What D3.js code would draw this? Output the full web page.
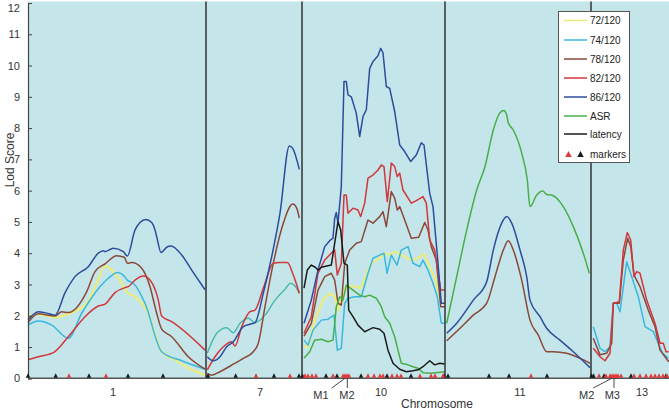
<!DOCTYPE html>
<html><head><meta charset="utf-8">
<script src="https://cdn.jsdelivr.net/npm/d3@7/dist/d3.min.js"></script>
<style>body{margin:0;background:#fff;}svg{display:block;font-family:"Liberation Sans",Arial,sans-serif;}</style>
</head><body>
<script>
// ---------------- DATA ----------------
const chromosomes = ["1", "7", "10", "11", "13"];
const chromLengths = [178, 96, 143, 146, 78];        // cM
const chromLabelPos = [85, 54, 79, 75, 51];           // cM within chromosome
const yTicks = [0,1,2,3,4,5,6,7,8,9,10,11,12];
const seriesNames = ["72/120", "74/120", "78/120", "82/120", "86/120", "ASR", "latency"];
const seriesColors = ["#ecec7c", "#38b7e0", "#8b4838", "#d1373b", "#2e4c9e", "#47af48", "#1a1a1a"];

// each series: one array of [cM, LOD] per chromosome (null = not shown)
const lod72 = [
  [[0,1.97],[10.3,2.05],[27,1.95],[40.3,2.06],[58.7,2.4],[68.7,3.04],[77,3.59],[83.7,3.46],[93.7,3.04],[99.3,2.74],[107,2.61],[120.3,2.08],[133.7,0.85],[147,0.59],[163.7,0.27],[177,0.11]],
  [[1.3,0.8],[10.7,1.44],[20.7,1.62],[27.3,1.46],[34,1.76],[42.3,1.92],[49,1.78],[59,2.02],[69,2.5],[79,2.85],[84.7,3.04],[89,2.95],[93.3,2.72]],
  [[2,1.01],[6,1.01],[12.7,1.86],[21,2.5],[27.7,2.72],[32.7,2.61],[36,2.18],[39.3,2.61],[44.3,2.93],[51,2.95],[59.3,2.88],[66,3.46],[71,3.73],[77.7,3.84],[82.7,4.0],[87.7,3.94],[92.7,4.05],[99.3,3.94],[109.3,3.78],[116,3.84],[122,3.97],[127.7,3.57],[132.7,3.2],[139.3,2.4],[142.7,2.4]],
  null, null
];
const lod74 = [
  [[0,1.7],[10.3,1.83],[23.7,1.7],[40.3,1.28],[53.7,2.08],[72,2.93],[80.3,3.2],[89.7,3.38],[95.3,3.3],[99.3,3.14],[105.3,3.04],[117,2.4],[133.7,0.85],[153.7,0.56],[177,0.29]],
  [[1.3,0.8],[10.7,1.44],[20.7,1.62],[27.3,1.46],[34,1.76],[42.3,1.92],[49,1.78],[59,2.02],[69,2.5],[79,2.85],[84.7,3.04],[89,2.95],[93.3,2.72]],
  [[2,1.22],[6,1.06],[11,1.54],[19.3,1.86],[26,1.89],[32,2.02],[35.3,0.9],[39.3,0.96],[42.7,2.4],[46,2.56],[52.7,2.61],[59.3,2.61],[66,3.36],[71,3.84],[77.7,3.94],[82,4.0],[85,3.36],[89.3,3.94],[95,3.62],[99.3,4.1],[106,4.21],[111,3.68],[117.7,3.57],[121,3.78],[126,3.46],[131,3.04],[135.3,2.61],[139.3,1.76],[142.7,1.76]],
  null,
  [[2.3,1.65],[9,0.96],[14,0.85],[19,1.01],[22.3,2.4],[25.7,2.4],[29,2.13],[35.7,3.73],[40.7,3.25],[47.3,2.61],[54,1.65],[62.3,1.49],[67.3,1.12],[71.7,0.8],[77.3,0.64]]
];
const lod78 = [
  [[0,1.78],[10.3,2.06],[27,1.99],[33.7,2.13],[40.3,2.1],[58.7,2.77],[67,3.41],[77,3.66],[88.7,3.92],[96.3,3.87],[99.3,3.68],[103.7,3.7],[113.7,3.52],[122,2.93],[128.7,2.08],[133.7,1.57],[143.7,1.33],[160.3,0.69],[177,0.29]],
  [[1.3,0.16],[5.7,0.1],[14,0.21],[27.3,0.45],[37.3,0.64],[47.3,0.85],[52.3,1.12],[59,2.29],[67.3,3.68],[77.3,4.96],[86.7,5.57],[90.7,5.44],[93.3,5.12]],
  [[2,1.35],[9.3,1.76],[16,2.82],[22.7,3.25],[29.3,3.36],[32.7,3.14],[36,2.4],[39.3,2.34],[42.7,3.68],[47.7,4.1],[54.3,4.32],[59.3,4.37],[66,5.06],[71,4.96],[77.7,5.17],[81,5.33],[84.3,4.85],[89.3,5.97],[92.7,5.76],[95.3,5.38],[97.7,5.49],[102.7,5.06],[109.3,4.48],[116.7,4.51],[122.7,4.98],[126,4.74],[129.3,4.21],[134.3,3.78],[138.7,2.29],[142.7,2.29]],
  [[1.7,1.2],[15,1.6],[28.3,2.02],[41.7,2.4],[50,3.25],[58.3,4.1],[63.3,4.4],[68.3,4.1],[76.7,3.14],[85,1.86],[93.3,1.38],[101.7,0.85],[108.3,0.85],[121.7,0.8],[135,0.64],[145,0.48]],
  [[2.3,1.28],[9,0.75],[15.7,0.8],[20.7,1.12],[22.3,2.4],[28.3,2.4],[32.3,3.78],[36.7,4.48],[39.7,4.21],[43,3.3],[49,2.93],[57.3,2.18],[64,1.65],[69,0.9],[77.7,0.53]]
];
const lod82 = [
  [[0,0.59],[10.3,0.69],[26.3,0.84],[40.3,1.33],[57,1.97],[70.3,2.31],[77,2.37],[87,2.74],[97,2.9],[100.3,2.93],[107,3.14],[115.3,3.27],[122,3.14],[130.3,2.5],[133.7,1.99],[143.7,1.81],[177,0.9]],
  [[1.3,0.27],[9,0.69],[17.3,1.01],[25.7,1.17],[29,1.03],[35.7,1.65],[44,2.13],[49,2.18],[57.3,2.88],[67.3,3.68],[74,3.7],[81.3,3.7],[87.3,3.3],[93.3,2.72]],
  [[2,1.44],[9.3,1.97],[16,3.36],[22.7,3.78],[29.3,4.0],[32.7,4.1],[35.3,3.3],[39.3,3.68],[42,5.86],[44.3,5.86],[46,5.28],[51,5.44],[56,5.38],[58.7,5.17],[62.7,5.6],[66,6.4],[71,6.5],[76,6.66],[79.3,6.82],[82,6.77],[85.3,5.65],[89.3,6.88],[92.7,6.77],[95.3,6.45],[97.7,6.56],[101,6.02],[109.3,5.6],[114.3,5.68],[121,5.81],[124.3,5.6],[127.7,4.42],[132.7,4.1],[138.7,2.82],[142.7,2.82]],
  null,
  [[2.3,0.96],[9,0.69],[14,0.56],[19,0.8],[22.3,2.4],[28.3,2.45],[32.3,4.1],[36.3,4.66],[39.7,4.42],[43,3.25],[45.7,3.41],[49,3.36],[55.7,2.5],[64,1.76],[69,1.12],[72.3,1.12],[75,0.85],[77.7,0.85]]
];
const lod86 = [
  [[0,1.86],[10.3,2.13],[17,2.1],[27,2.02],[37,2.73],[47,3.25],[60.3,3.57],[70.3,4.0],[75.3,4.08],[77,4.05],[85.3,4.16],[95.3,4.05],[99.3,3.91],[107,4.74],[112,4.98],[117.7,5.08],[123.7,4.98],[127,4.74],[128.7,4.53],[133,4.02],[138.7,4.19],[143,4.23],[153.7,3.94],[163.7,3.46],[177,2.83]],
  [[1.3,0.69],[7.3,0.56],[14,0.69],[20.7,1.01],[27.3,1.17],[37.3,1.65],[44,1.73],[49,1.78],[57.3,2.72],[65.7,3.89],[74,5.28],[83.3,7.43],[86.7,7.35],[93.3,6.68]],
  [[2,1.76],[9.3,2.5],[16,3.46],[22.7,4.21],[27.7,4.4],[31,4.48],[32.7,5.12],[34.3,5.3],[36,4.96],[39.3,6.13],[42,9.49],[44.3,9.49],[46,9.06],[49.3,9.0],[54.3,8.47],[57.7,7.73],[61,8.37],[64.3,8.58],[67.7,9.91],[71,10.13],[76,10.31],[78.7,10.55],[81,10.41],[84.3,9.33],[87.7,9.27],[92.7,8.53],[97.7,7.46],[102.7,7.25],[108.7,6.93],[114.3,7.14],[119.3,7.53],[122,7.46],[127.7,5.92],[131,5.49],[136,3.68],[139.3,2.4],[142.7,2.4]],
  [[1.7,1.44],[11.7,1.76],[28.3,2.5],[41.7,3.09],[48.3,4.1],[56.7,4.96],[61.7,5.17],[66.7,4.96],[75,4.1],[81.7,3.25],[85,2.5],[95,1.97],[101.7,1.6],[115,1.22],[128.3,0.85],[145,0.34]],
  null
];
const lodASR = [
  null, null,
  [[2,0.64],[7.7,0.85],[12.7,1.22],[19.3,1.25],[26,1.17],[31,1.22],[34.3,2.29],[37.7,2.61],[41,2.5],[44.3,2.98],[51,2.82],[57.7,2.66],[62.7,2.61],[67.7,2.66],[74.3,2.56],[79.3,2.29],[82.7,1.97],[87.7,1.76],[92.7,1.33],[96,0.9],[99.3,0.48],[106,0.43],[111,0.37],[116,0.32],[121,0.18],[129.3,0.16],[142.7,0.21]],
  [[1.7,1.76],[11.7,3.25],[21.7,4.74],[31.7,6.02],[40,6.77],[48.3,7.94],[55,8.49],[59,8.56],[61.7,8.42],[63.3,8.17],[68.3,7.94],[76.7,7.2],[82.3,6.34],[85,5.49],[91.7,5.86],[97.7,5.99],[101.7,5.88],[106.7,5.86],[118.3,5.49],[128.3,4.85],[138.3,4.0],[144.3,3.36]],
  null
];
const lodLatency = [
  null, null,
  [[2,2.88],[5.3,3.46],[9.3,3.62],[13.3,3.55],[16,3.46],[19.3,3.55],[29.3,3.62],[32.7,4.32],[36,5.01],[38.7,4.74],[42,3.68],[45.3,3.62],[46.7,2.18],[51,1.97],[56,1.7],[62.7,1.49],[66,1.54],[71,1.62],[77.7,1.57],[82,1.44],[86,0.9],[91,0.48],[97.7,0.29],[104.3,0.21],[111,0.24],[116,0.27],[121,0.37],[127.7,0.56],[132.7,0.43],[137.7,0.48],[142.7,0.46]],
  null, null
];
const allSeries = [lod72, lod74, lod78, lod82, lod86, lodASR, lodLatency];

// markers: [chromosome index, cM]
const markersRed = [[0,41],[0,78],[1,50],[1,84],
  [2,3],[2,6],[2,10],[2,14],[2,31],[2,41],[2,43],[2,45],[2,47],[2,66],[2,72],[2,78],[2,81],[2,90],[2,95],[2,99],[2,118],[2,129],[2,133],[2,141],
  [3,86],
  [4,8],[4,15],[4,19],[4,21],[4,23],[4,25],[4,27],[4,30],[4,43],[4,49],[4,55],[4,60],[4,64],[4,68],[4,72],[4,76]];
const markersBlack = [[0,0],[0,27.7],[0,61],[0,100],[0,135],[1,2],[1,29.7],[1,68],[1,93],
  [2,0.5],[2,24],[2,35],[2,59],[2,85],[2,109],[2,142],
  [3,3],[3,44],[3,64],[3,102],[4,0.5],[4,2.5],[4,13],[4,40],[4,75]];

// marker annotations
const annText = ["M1", "M2", "M2", "M3"];
const annChrom = [2, 2, 4, 4];
const annMarker = [43, 45.3, 20.7, 23];
const annLabelPos = [19, 45, -4.3, 21.3];
const annLineStart = [29.7, 45.3, 2.3, 23];

// ---------------- CHART ----------------
const W = 669, H = 411;
const svg = d3.select("body").append("svg").attr("width", W).attr("height", H);

const chromStart = [];
chromLengths.reduce((acc, l, i) => { chromStart[i] = acc; return acc + l; }, 0);
const total = d3.sum(chromLengths);
const x = d3.scaleLinear().domain([0, total]).range([28, 669]);
const y = d3.scaleLinear().domain([0, 12]).range([378.3, 3]);
const gx = (c, p) => x(chromStart[c] + p);

// background
svg.append("rect").attr("x", x(0)).attr("y", 1.5).attr("width", x(total) - x(0) + 2)
  .attr("height", y(0) - 1.5).attr("fill", "#c4e6ea");

// curves
const curveFor = [d3.curveMonotoneX, d3.curveMonotoneX, d3.curveLinear, d3.curveMonotoneX, d3.curveLinear];
allSeries.forEach((ser, si) => {
  ser.forEach((pts, ci) => {
    if (!pts) return;
    const line = d3.line().x(d => gx(ci, d[0])).y(d => y(d[1])).curve(curveFor[ci]);
    svg.append("path").attr("d", line(pts)).attr("fill", "none")
      .attr("stroke", seriesColors[si]).attr("stroke-width", si === 0 ? 2.2 : 1.5)
      .attr("stroke-linejoin", "round");
  });
});

// chromosome dividers
chromStart.slice(1).forEach(s => {
  svg.append("line").attr("x1", x(s)).attr("x2", x(s)).attr("y1", 1.5).attr("y2", y(0))
    .attr("stroke", "#333").attr("stroke-width", 1.5);
});

// axes
const yAxis = d3.axisLeft(y).tickValues(yTicks).tickSize(-4).tickPadding(8).tickFormat(d3.format("d"));
const ga = svg.append("g").attr("transform", `translate(${x(0)},0)`).call(yAxis);
ga.select(".domain").attr("stroke", "#444").attr("stroke-width", 1.2);
ga.selectAll(".tick line").attr("stroke", "#444");
ga.selectAll(".tick text").attr("font-size", 11).attr("fill", "#333")
  .attr("font-family", "Liberation Sans, Arial, sans-serif")
  .attr("dy", d => d === 12 ? "0.75em" : "0.32em");
svg.append("line").attr("x1", x(0)).attr("x2", W).attr("y1", y(0)).attr("y2", y(0))
  .attr("stroke", "#555").attr("stroke-width", 1.5);

// markers
const tri = (cx, by, w, h) => `M${cx - w/2},${by} L${cx + w/2},${by} L${cx},${by - h} Z`;
markersBlack.forEach(m => svg.append("path").attr("d", tri(gx(m[0], m[1]), y(0) - 0.5, 4.5, 4.5)).attr("fill", "#1a1a1a"));
markersRed.forEach(m => svg.append("path").attr("d", tri(gx(m[0], m[1]), y(0) - 0.5, 4.5, 4.5)).attr("fill", "#e23a3a"));

// annotations
annText.forEach((t, i) => {
  svg.append("line").attr("x1", gx(annChrom[i], annLineStart[i])).attr("y1", 388)
    .attr("x2", gx(annChrom[i], annMarker[i])).attr("y2", y(0))
    .attr("stroke", "#333").attr("stroke-width", 0.9);
  svg.append("text").attr("x", gx(annChrom[i], annLabelPos[i])).attr("y", 399)
    .attr("text-anchor", "middle").attr("font-size", 11).attr("fill", "#333").text(t);
});

// chromosome labels
chromosomes.forEach((c, i) => {
  svg.append("text").attr("x", gx(i, chromLabelPos[i])).attr("y", 396)
    .attr("text-anchor", "middle").attr("font-size", 11).attr("fill", "#333").text(c);
});
svg.append("text").attr("x", 437).attr("y", 407.5).attr("text-anchor", "middle")
  .attr("font-size", 12).attr("fill", "#333").text("Chromosome");
svg.append("text").attr("transform", "translate(14,160) rotate(-90)").attr("text-anchor", "middle")
  .attr("font-size", 12).attr("fill", "#333").text("Lod Score");

// legend
const lg = svg.append("g");
lg.append("rect").attr("x", 558.5).attr("y", 11.5).attr("width", 71).attr("height", 151)
  .attr("fill", "#fff").attr("stroke", "#555").attr("stroke-width", 1);
const legY = [20.5, 40, 59, 78, 97, 116, 134];
seriesNames.forEach((n, i) => {
  lg.append("line").attr("x1", 564).attr("x2", 587).attr("y1", legY[i]).attr("y2", legY[i])
    .attr("stroke", seriesColors[i]).attr("stroke-width", 1.5);
  lg.append("text").attr("x", 590).attr("y", legY[i] + 3.5).attr("font-size", 10).attr("fill", "#222").text(n);
});
lg.append("path").attr("d", tri(568.5, 157, 6.5, 6)).attr("fill", "#e23a3a");
lg.append("path").attr("d", tri(580.5, 157, 6.5, 6)).attr("fill", "#1a1a1a");
lg.append("text").attr("x", 590).attr("y", 157.5).attr("font-size", 10).attr("fill", "#222").text("markers");
</script>
</body></html>
